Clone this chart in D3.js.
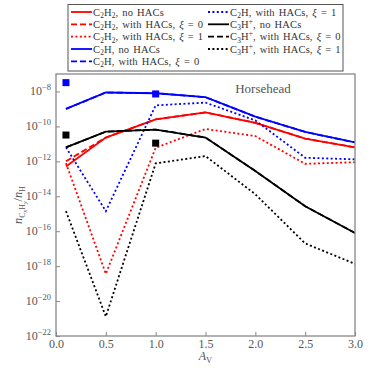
<!DOCTYPE html>
<html>
<head>
<meta charset="utf-8">
<script src="https://cdn.jsdelivr.net/npm/d3@7"></script>
<style>
  body { margin: 0; background: #fff; }
  svg { display: block; font-family: "Liberation Serif", "DejaVu Serif", serif; }
</style>
</head>
<body>
<div id="chart"></div>
<script>
// visual extinction A_V (x axis)
const av = [0.1, 0.5, 1.0, 1.5, 2.0, 2.5, 3.0];

// abundances n_X / n_H
const c2h2NoHACs = [5.0e-13, 2.3e-11, 2.5e-10, 6.3e-10, 1.6e-10, 2.0e-11, 6.3e-12];
const c2h2Xi0    = [1.0e-12, 2.3e-11, 2.5e-10, 6.3e-10, 1.6e-10, 2.0e-11, 6.3e-12];
const c2h2Xi1    = [7.9e-13, 3.6e-19, 6.0e-12, 7.1e-11, 2.8e-11, 7.2e-13, 8.9e-13];
const c2hNoHACs  = [1.0e-9, 8.7e-9, 7.9e-9, 4.7e-9, 3.6e-10, 4.8e-11, 1.2e-11];
const c2hXi0     = [1.0e-9, 8.7e-9, 7.9e-9, 4.7e-9, 3.6e-10, 4.8e-11, 1.2e-11];
const c2hXi1     = [6.3e-12, 1.4e-15, 1.6e-9, 2.3e-9, 2.2e-10, 1.6e-12, 1.3e-12];
const c3hpNoHACs = [6.3e-12, 5.0e-11, 6.6e-11, 2.3e-11, 2.8e-13, 2.7e-15, 7.9e-17];
const c3hpXi0    = [6.3e-12, 5.0e-11, 6.6e-11, 2.3e-11, 2.8e-13, 2.7e-15, 7.9e-17];
const c3hpXi1    = [1.4e-15, 1.3e-21, 7.6e-13, 2.0e-12, 1.3e-14, 2.0e-17, 1.35e-18];

// observed values (squares)
const obsAv   = [0.1, 1.0];
const obsC2H  = [3.2e-8, 7.2e-9];
const obsC3Hp = [3.2e-11, 1.1e-11];

// tick labels
const xTicks = [0.0, 0.5, 1.0, 1.5, 2.0, 2.5, 3.0];
const yTickExp = [-8, -10, -12, -14, -16, -18, -20, -22];

const W = 374, H = 374;
const margin = {top: 74, right: 19, bottom: 38, left: 56};

const svg = d3.select("#chart").append("svg")
    .attr("width", W)
    .attr("height", H);

const x = d3.scaleLinear().domain([0, 3]).range([margin.left, W - margin.right]);
const y = d3.scaleLog().domain([1e-22, 1e-7]).range([H - margin.bottom, margin.top]);

const gray = "#555";

// series table
const series = [
    {name: [["C", 0], ["2", 1], ["H", 0], ["2", 1], [", no HACs", 0]], vals: c2h2NoHACs, color: "#ff0000", dash: null},
    {name: [["C", 0], ["2", 1], ["H", 0], ["2", 1], [", with HACs, ", 0], ["ξ", 2], [" = 0", 0]], vals: c2h2Xi0, color: "#ff0000", dash: "6,3"},
    {name: [["C", 0], ["2", 1], ["H", 0], ["2", 1], [", with HACs, ", 0], ["ξ", 2], [" = 1", 0]], vals: c2h2Xi1, color: "#ff0000", dash: "2,2.4"},
    {name: [["C", 0], ["2", 1], ["H, no HACs", 0]], vals: c2hNoHACs, color: "#0000ff", dash: null},
    {name: [["C", 0], ["2", 1], ["H, with HACs, ", 0], ["ξ", 2], [" = 0", 0]], vals: c2hXi0, color: "#0000ff", dash: "6,3"},
    {name: [["C", 0], ["2", 1], ["H, with HACs, ", 0], ["ξ", 2], [" = 1", 0]], vals: c2hXi1, color: "#0000ff", dash: "2,2.4"},
    {name: [["C", 0], ["3", 1], ["H", 0], ["+", 3], [", no HACs", 0]], vals: c3hpNoHACs, color: "#000", dash: null},
    {name: [["C", 0], ["3", 1], ["H", 0], ["+", 3], [", with HACs, ", 0], ["ξ", 2], [" = 0", 0]], vals: c3hpXi0, color: "#000", dash: "6,3"},
    {name: [["C", 0], ["3", 1], ["H", 0], ["+", 3], [", with HACs, ", 0], ["ξ", 2], [" = 1", 0]], vals: c3hpXi1, color: "#000", dash: "2,2.4"}
];

// rich text helper: kind 0 normal, 1 subscript, 2 italic, 3 superscript
function richText(sel, parts, size) {
    let shift = 0;
    parts.forEach(p => {
        let target = 0, fs = size, style = "normal";
        if (p[1] === 1) { target = size * 0.25; fs = size * 0.7; }
        if (p[1] === 3) { target = -size * 0.35; fs = size * 0.7; }
        if (p[1] === 2) { style = "italic"; }
        sel.append("tspan")
            .attr("dy", target - shift)
            .style("font-size", fs + "px")
            .style("font-style", style)
            .text(p[0]);
        shift = target;
    });
}

// clip for lines
svg.append("clipPath").attr("id", "plotclip")
    .append("rect")
    .attr("x", margin.left).attr("y", margin.top)
    .attr("width", W - margin.left - margin.right)
    .attr("height", H - margin.top - margin.bottom);

const line = d3.line()
    .x((d, i) => x(av[i]))
    .y(d => y(d));

const plot = svg.append("g").attr("clip-path", "url(#plotclip)");

series.forEach(s => {
    plot.append("path")
        .datum(s.vals)
        .attr("d", line)
        .attr("fill", "none")
        .attr("stroke", s.color)
        .attr("stroke-width", 1.8)
        .attr("stroke-dasharray", s.dash);
});

// observation squares
plot.selectAll(".obsC2H")
    .data(obsC2H)
    .enter().append("rect")
    .attr("class", "obsC2H")
    .attr("x", (d, i) => x(obsAv[i]) - 3.5)
    .attr("y", d => y(d) - 3.5)
    .attr("width", 7).attr("height", 7)
    .attr("fill", "#0000ff");

plot.selectAll(".obsC3Hp")
    .data(obsC3Hp)
    .enter().append("rect")
    .attr("class", "obsC3Hp")
    .attr("x", (d, i) => x(obsAv[i]) - 3.5)
    .attr("y", d => y(d) - 3.5)
    .attr("width", 7).attr("height", 7)
    .attr("fill", "#000");

// frame
svg.append("rect")
    .attr("x", margin.left).attr("y", margin.top)
    .attr("width", W - margin.left - margin.right)
    .attr("height", H - margin.top - margin.bottom)
    .attr("fill", "none")
    .attr("stroke", "#888")
    .attr("stroke-width", 1.3);

// x axis
const xAxis = d3.axisBottom(x)
    .tickValues(xTicks)
    .tickSizeInner(-4)
    .tickSizeOuter(0)
    .tickPadding(3)
    .tickFormat(d3.format(".1f"));

const xg = svg.append("g")
    .attr("transform", `translate(0, ${H - margin.bottom})`)
    .call(xAxis);
xg.select(".domain").remove();
xg.selectAll("line").attr("stroke", "#888");
xg.selectAll("text")
    .attr("fill", gray)
    .style("font-family", "Liberation Serif, serif")
    .style("font-size", "12px");

// y axis
const yAxis = d3.axisLeft(y)
    .tickValues(yTickExp.map(e => Math.pow(10, e)))
    .tickSizeInner(-4)
    .tickSizeOuter(0)
    .tickFormat("");

const yg = svg.append("g")
    .attr("transform", `translate(${margin.left}, 0)`)
    .call(yAxis);
yg.select(".domain").remove();
yg.selectAll("line").attr("stroke", "#888");

yTickExp.forEach(e => {
    const t = svg.append("text")
        .attr("x", margin.left - 5)
        .attr("y", y(Math.pow(10, e)) + 4)
        .attr("text-anchor", "end")
        .attr("fill", gray);
    t.append("tspan").style("font-size", "12px").text("10");
    t.append("tspan").attr("dy", -5).style("font-size", "8.5px").text("−" + Math.abs(e));
});

// axis labels
const xl = svg.append("text")
    .attr("x", (margin.left + W - margin.right) / 2)
    .attr("y", 360)
    .attr("text-anchor", "middle")
    .attr("fill", gray);
xl.append("tspan").style("font-size", "12px").style("font-style", "italic").text("A");
xl.append("tspan").attr("dy", 3).style("font-size", "8.5px").text("V");

const yl = svg.append("text")
    .attr("transform", `translate(22, ${(margin.top + H - margin.bottom) / 2}) rotate(-90)`)
    .attr("text-anchor", "middle")
    .attr("fill", gray);
yl.append("tspan").style("font-size", "12.5px").style("font-style", "italic").text("n");
yl.append("tspan").attr("dy", 3).style("font-size", "8px").text("C");
yl.append("tspan").attr("dy", 2).style("font-size", "6px").style("font-style", "italic").text("x");
yl.append("tspan").attr("dy", -2).style("font-size", "8px").text("H");
yl.append("tspan").attr("dy", 2).style("font-size", "6px").style("font-style", "italic").text("y");
yl.append("tspan").attr("dy", -5).style("font-size", "12.5px").text("/");
yl.append("tspan").style("font-size", "12.5px").style("font-style", "italic").text("n");
yl.append("tspan").attr("dy", 3).style("font-size", "8px").text("H");

// title inside plot
svg.append("text")
    .attr("x", 263)
    .attr("y", 93)
    .attr("text-anchor", "middle")
    .attr("fill", gray)
    .style("font-size", "13px")
    .text("Horsehead");

// legend
const legend = svg.append("g");
legend.append("rect")
    .attr("x", 68).attr("y", 4.5)
    .attr("width", 275).attr("height", 66.5)
    .attr("fill", "#fff")
    .attr("stroke", "#555")
    .attr("stroke-width", 1);

const rowY = [12, 24.3, 36.6, 49, 61.3];
series.forEach((s, i) => {
    const col = i < 5 ? 0 : 1;
    const row = i < 5 ? i : i - 5;
    const lx = col === 0 ? 71 : 208;
    const ly = rowY[row];
    legend.append("line")
        .attr("x1", lx).attr("x2", lx + 21)
        .attr("y1", ly).attr("y2", ly)
        .attr("stroke", s.color)
        .attr("stroke-width", 1.8)
        .attr("stroke-dasharray", s.dash);
    const t = legend.append("text")
        .attr("x", lx + 22)
        .attr("y", ly + 3.5)
        .attr("fill", "#333")
        .style("letter-spacing", "0.15px")
        .style("word-spacing", "1.2px");
    richText(t, s.name, 10.5);
});
</script>
</body>
</html>
